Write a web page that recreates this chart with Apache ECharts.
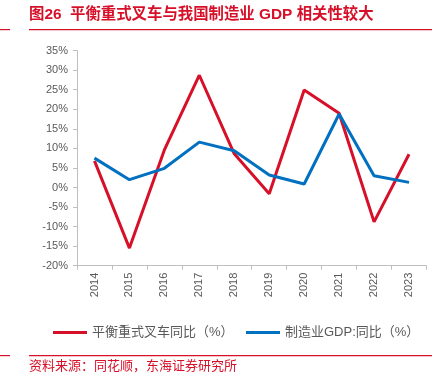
<!DOCTYPE html>
<html>
<head>
<meta charset="utf-8">
<script src="https://cdn.jsdelivr.net/npm/echarts@6/dist/echarts.min.js"></script>
<style>
  html, body { margin: 0; padding: 0; background: #fff; }
  #main { width: 442px; height: 375px; }
</style>
</head>
<body>
<div id="main"></div>
<script>
// 数据
const years = ['2014', '2015', '2016', '2017', '2018', '2019', '2020', '2021', '2022', '2023'];
const forkliftYoy = [6.8, -15.5, 9.6, 28.7, 8.6, -1.6, 24.9, 19.0, -8.8, 8.5];
const mfgGdpYoy = [7.5, 2.0, 4.9, 11.6, 9.4, 3.2, 0.9, 18.8, 3.0, 1.3];
const seriesNames = ['平衡重式叉车同比（%）', '制造业GDP:同比（%）'];

const red = '#d7102a';
const blue = '#0070c0';
const axisGray = '#bfbfbf';
const textGray = '#595959';
const font = '"Liberation Sans", "Noto Sans CJK SC", sans-serif';

const chart = echarts.init(document.getElementById('main'));

const legendBase = {
  top: 321,
  itemWidth: 34,
  itemHeight: 3,
  icon: 'rect',
  textStyle: { color: textGray, fontSize: 13, fontFamily: font }
};

const option = {
  animation: false,
  textStyle: { fontFamily: font },
  graphic: [
    {
      type: 'text', left: 29, top: 7,
      style: { text: '图26  平衡重式叉车与我国制造业 GDP 相关性较大', fill: red, font: 'bold 15.4px ' + font }
    },
    { type: 'rect', shape: { x: 29, y: 29, width: 403, height: 1.2 }, style: { fill: red } },
    { type: 'rect', shape: { x: 0, y: 29, width: 10, height: 1.2 }, style: { fill: red } },
    { type: 'rect', shape: { x: 29, y: 355, width: 403, height: 1.2 }, style: { fill: red } },
    { type: 'rect', shape: { x: 0, y: 355, width: 10, height: 1.2 }, style: { fill: red } },
    {
      type: 'text', left: 29, top: 360,
      style: { text: '资料来源：同花顺，东海证券研究所', fill: red, font: '13px ' + font }
    }
  ],
  legend: [
    Object.assign({ left: 48, data: [seriesNames[0]] }, legendBase),
    Object.assign({ left: 241, data: [seriesNames[1]] }, legendBase)
  ],
  grid: { left: 77, right: 15.5, top: 50.6, bottom: 109.3 },
  xAxis: [
    {
      type: 'category',
      data: years,
      axisLine: { show: false },
      axisTick: { show: false },
      axisLabel: { rotate: 90, margin: 7, color: textGray, fontSize: 11, fontFamily: font }
    },
    {
      type: 'category',
      data: years,
      position: 'bottom',
      axisLine: { show: true, onZero: true, lineStyle: { color: axisGray } },
      axisTick: { show: true, length: 4, lineStyle: { color: axisGray } },
      axisLabel: { show: false }
    }
  ],
  yAxis: {
    type: 'value',
    min: -20,
    max: 35,
    interval: 5,
    axisLine: { show: true, lineStyle: { color: axisGray } },
    axisTick: { show: true, length: 4, lineStyle: { color: axisGray } },
    splitLine: { show: false },
    axisLabel: {
      formatter: '{value}%',
      margin: 9,
      color: textGray,
      fontSize: 11,
      fontFamily: font
    }
  },
  series: [
    {
      name: seriesNames[0],
      type: 'line',
      data: forkliftYoy,
      symbol: 'none',
      lineStyle: { color: red, width: 3 },
      itemStyle: { color: red },
      z: 2
    },
    {
      name: seriesNames[1],
      type: 'line',
      data: mfgGdpYoy,
      symbol: 'none',
      lineStyle: { color: blue, width: 3 },
      itemStyle: { color: blue },
      z: 3
    }
  ]
};

chart.setOption(option);
</script>
</body>
</html>
